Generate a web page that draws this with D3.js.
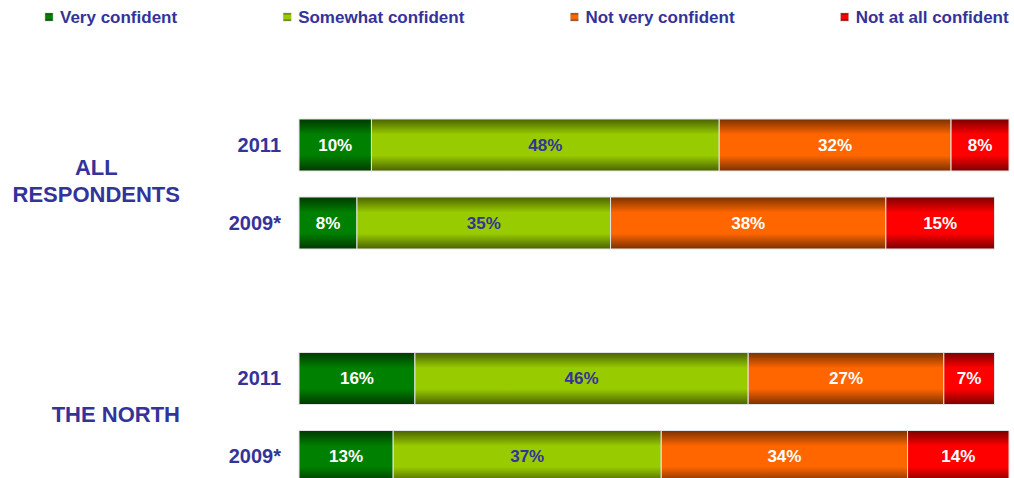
<!DOCTYPE html>
<html>
<head>
<meta charset="utf-8">
<script src="https://cdn.jsdelivr.net/npm/d3@7/dist/d3.min.js"></script>
<style>
  html, body { margin: 0; padding: 0; background: #fff; }
  svg { display: block; font-family: "Liberation Sans", Arial, sans-serif; font-weight: bold; }
</style>
</head>
<body>
<svg id="chart" width="1014" height="478"></svg>
<script>
// Survey answers: confidence level, shown as stacked percentage bars
const levels = ["Very confident", "Somewhat confident", "Not very confident", "Not at all confident"];
const groups = ["ALL RESPONDENTS", "THE NORTH"];
const groupLines = [["ALL", "RESPONDENTS"], ["THE NORTH"]];
const years = ["2011", "2009*"];

// values per group, per year, in the order of `levels`
const allRespondents2011 = [10, 48, 32, 8];
const allRespondents2009 = [8, 35, 38, 15];
const north2011 = [16, 46, 27, 7];
const north2009 = [13, 37, 34, 14];

// colour per level: [edge, centre]
const levelColors = [
  ["#003800", "#008000"],
  ["#4a6200", "#99cc00"],
  ["#7a3000", "#ff6600"],
  ["#7a0000", "#ff0000"]
];
const labelColors = ["#ffffff", "#333399", "#ffffff", "#ffffff"];
const textColor = "#333399";

const rows = [
  { group: groups[0], year: years[0], values: allRespondents2011 },
  { group: groups[0], year: years[1], values: allRespondents2009 },
  { group: groups[1], year: years[0], values: north2011 },
  { group: groups[1], year: years[1], values: north2009 }
];

const svg = d3.select("#chart");

// vertical gradients: dark edges, bright middle
const defs = svg.append("defs");
levelColors.forEach((c, i) => {
  const g = defs.append("linearGradient")
    .attr("id", "grad" + i)
    .attr("x1", 0).attr("y1", 0).attr("x2", 0).attr("y2", 1);
  [[0, c[0]], [0.3, c[1]], [0.7, c[1]], [1, c[0]]].forEach(([o, col]) =>
    g.append("stop").attr("offset", o).attr("stop-color", col));
});

// scales
const x = d3.scaleLinear().domain([0, 100]).range([299, 1023.5]);
const yGroup = d3.scaleBand().domain(groups).range([106, 495.5]).paddingInner(0.332).paddingOuter(0);
const yYear = d3.scaleBand().domain(years).range([0, yGroup.bandwidth()])
  .paddingInner(1 / 3).paddingOuter(1 / 6);

// bars
const rowG = svg.selectAll("g.row").data(rows).join("g")
  .attr("class", "row")
  .attr("transform", d => `translate(0,${yGroup(d.group) + yYear(d.year)})`);

const segs = rowG.selectAll("g.seg")
  .data(d => {
    let acc = 0;
    return d.values.map((v, i) => {
      const s = { i, v, x0: acc, x1: acc + v };
      acc += v;
      return s;
    });
  })
  .join("g").attr("class", "seg");

segs.append("rect")
  .attr("x", d => x(d.x0))
  .attr("width", d => x(d.x1) - x(d.x0))
  .attr("y", 0)
  .attr("height", yYear.bandwidth())
  .attr("fill", d => `url(#grad${d.i})`)
  .attr("stroke", "#e4e4e4")
  .attr("stroke-width", 1);

segs.append("text")
  .attr("x", d => (x(d.x0) + x(d.x1)) / 2)
  .attr("y", yYear.bandwidth() / 2)
  .attr("dy", "0.35em")
  .attr("text-anchor", "middle")
  .attr("font-size", 17)
  .attr("fill", d => labelColors[d.i])
  .text(d => d.v + "%");

// year labels
rowG.append("text")
  .attr("x", 281)
  .attr("y", yYear.bandwidth() / 2)
  .attr("dy", "0.35em")
  .attr("text-anchor", "end")
  .attr("font-size", 20)
  .attr("fill", textColor)
  .text(d => d.year);

// group labels: centred block, right edge aligned
groups.forEach((g, gi) => {
  const lines = groupLines[gi];
  const t = svg.append("text")
    .attr("font-size", 22)
    .attr("fill", textColor)
    .attr("text-anchor", "middle");
  const cy = yGroup(g) + yGroup.bandwidth() / 2 - 3;
  const lh = 27;
  const spans = lines.map((l, li) => t.append("tspan")
    .attr("y", cy + (li - (lines.length - 1) / 2) * lh)
    .attr("dy", "0.35em")
    .text(l));
  const w = d3.max(spans, s => s.node().getComputedTextLength());
  spans.forEach(s => s.attr("x", 180 - w / 2));
});

// legend
const legend = svg.append("g").attr("class", "legend");
let lx = 45;
levels.forEach((name, i) => {
  const item = legend.append("g").attr("transform", `translate(${lx},0)`);
  item.append("rect")
    .attr("x", 0).attr("y", 13).attr("width", 8).attr("height", 8)
    .attr("fill", `url(#grad${i})`)
    .attr("stroke", "#bbb").attr("stroke-width", 0.5);
  const t = item.append("text")
    .attr("x", 15).attr("y", 17.5).attr("dy", "0.35em")
    .attr("font-size", 17)
    .attr("fill", textColor)
    .text(name);
  lx += 15 + t.node().getComputedTextLength() + 106;
});
</script>
</body>
</html>
